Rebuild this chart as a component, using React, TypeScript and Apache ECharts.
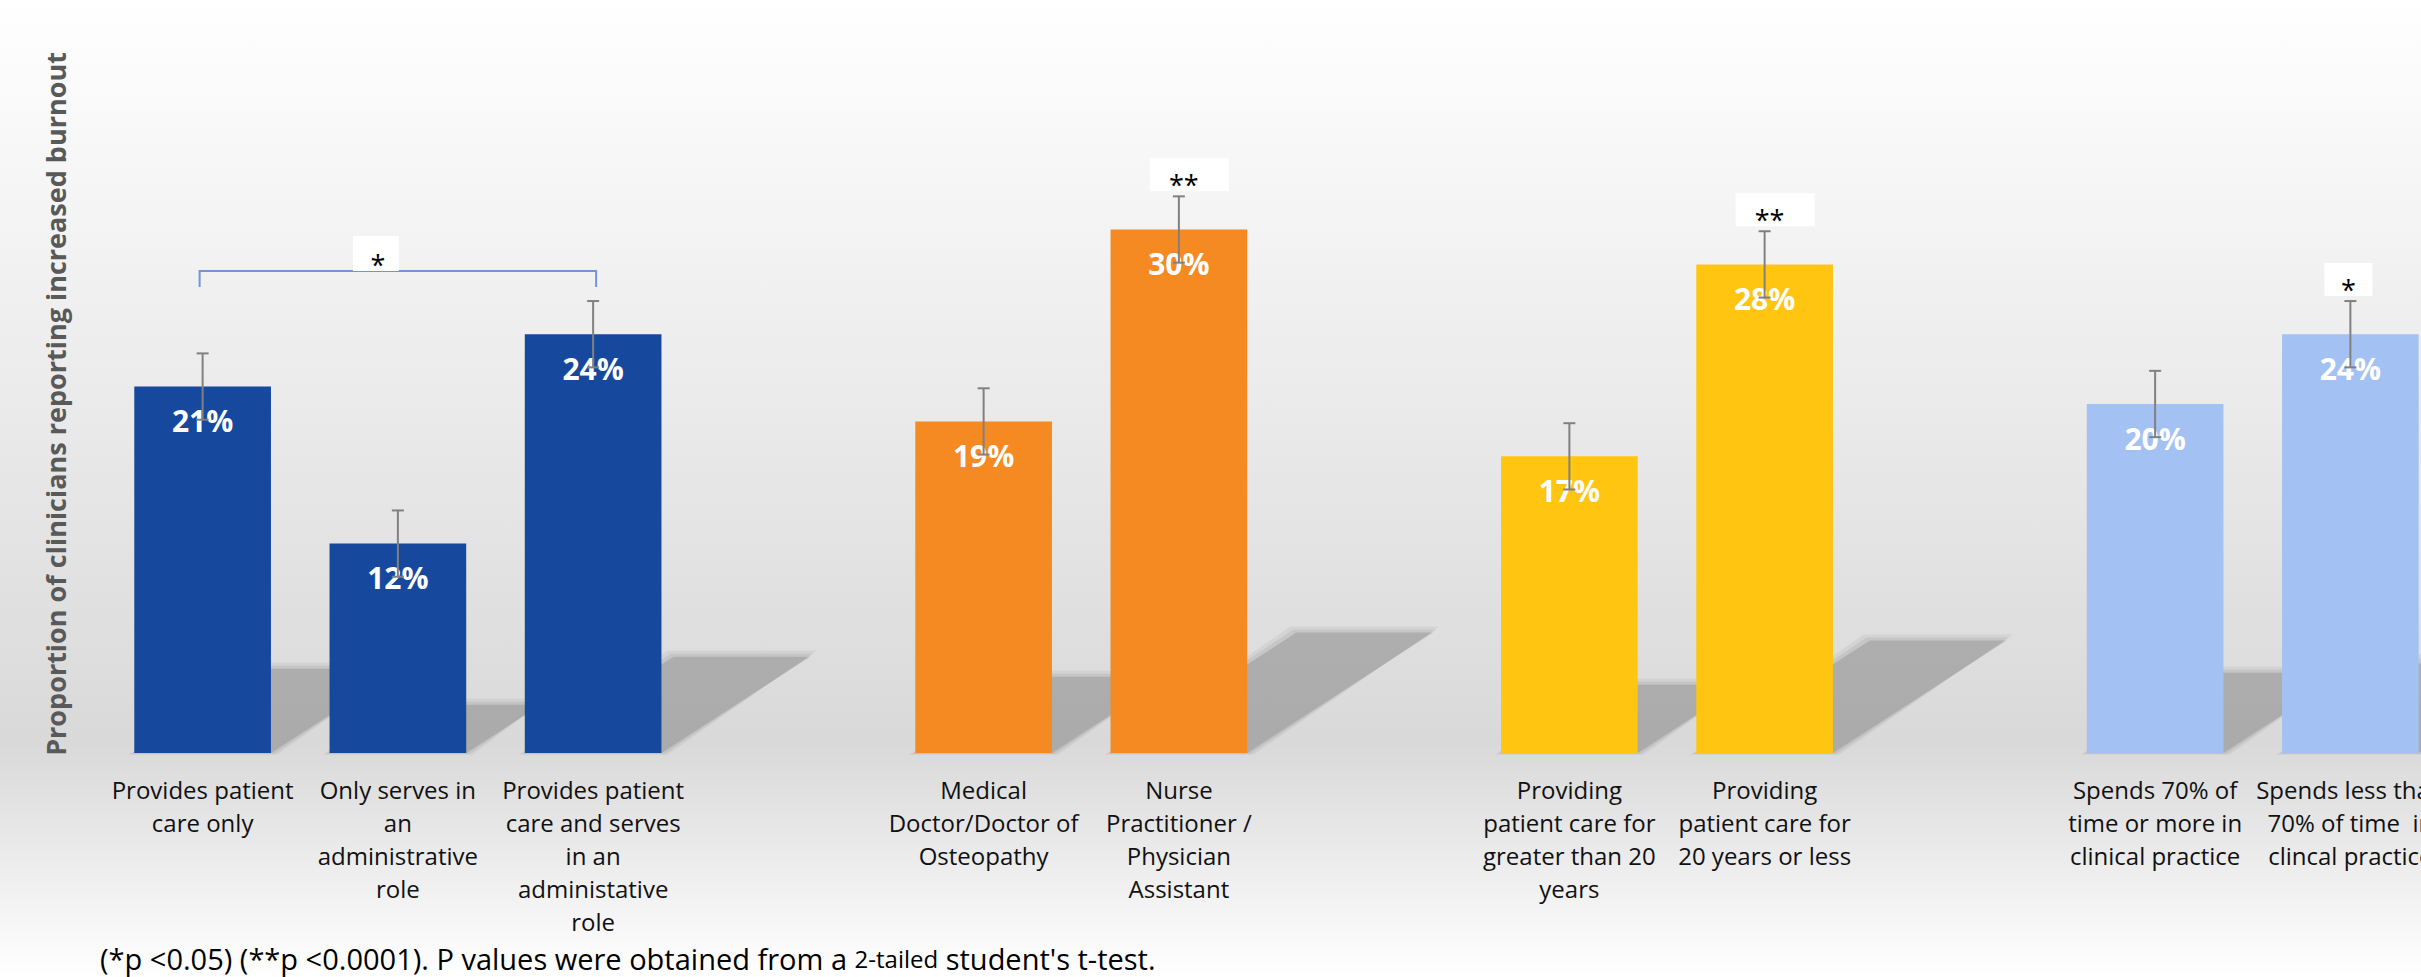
import React, { useEffect, useRef } from "react";
import * as echarts from "echarts";

// ---- data ----
const categories = [
  "Provides patient\ncare only",
  "Only serves in\nan\nadministrative\nrole",
  "Provides patient\ncare and serves\nin an\nadministative\nrole",
  "",
  "Medical\nDoctor/Doctor of\nOsteopathy",
  "Nurse\nPractitioner /\nPhysician\nAssistant",
  "",
  "Providing\npatient care for\ngreater than 20\nyears",
  "Providing\npatient care for\n20 years or less",
  "",
  "Spends 70% of\ntime or more in\nclinical practice",
  "Spends less than\n70% of time  in\nclincal practice",
];
const burnout = [21, 12, 24, null, 19, 30, null, 17, 28, null, 20, 24];
const errorMargin = [1.9, 1.9, 1.9, null, 1.9, 1.9, null, 1.9, 1.9, null, 1.9, 1.9];
const significance = ["", "", "", "", "", "**", "", "", "**", "", "", "*"];
const groupOf = [0, 0, 0, -1, 1, 1, -1, 2, 2, -1, 3, 3];
const groupColors = ["#16489d", "#f58a22", "#ffc511", "#a4c1f3"];
const bracketFrom = 0;
const bracketTo = 2;
const bracketMark = "*";
const yAxisTitle = "Proportion of clinicians reporting increased burnout";
const footnoteA = "(*p <0.05) (**p <0.0001). P values were obtained from a ";
const footnoteB = "2-tailed";
const footnoteC = " student's t-test.";

const FONT = "'Open Sans', 'Noto Sans', sans-serif";

export default function App() {
  const ref = useRef<HTMLDivElement>(null);

  useEffect(() => {
    if (!ref.current) return;
    const chart = echarts.init(ref.current, null, { renderer: "svg" });

    const barData = burnout.map((v, i) =>
      v == null
        ? "-"
        : { value: v, itemStyle: { color: groupColors[groupOf[i]] } }
    );
    const pointData = burnout
      .map((v, i) => (v == null ? null : [i, v, errorMargin[i], significance[i]]))
      .filter((d) => d != null);

    const shadowPoly = (L: number, R: number, b: number, dx: number, dy: number, g: number) => [
      [L - g, b + g * 0.3],
      [R + g, b + g * 0.3],
      [R + dx + g, b - dy - g],
      [L + dx - g, b - dy - g],
    ];

    const option: any = {
      animation: false,
      backgroundColor: {
        type: "linear",
        x: 0,
        y: 0,
        x2: 0,
        y2: 1,
        colorStops: [
          { offset: 0, color: "#ffffff" },
          { offset: 0.06, color: "#fcfcfc" },
          { offset: 0.76, color: "#d9d9d9" },
          { offset: 0.8, color: "#dfdfdf" },
          { offset: 1, color: "#ffffff" },
        ],
      },
      grid: { left: 105, right: 12, top: 55, bottom: 224 },
      xAxis: {
        type: "category",
        data: categories,
        axisLine: { show: false },
        axisTick: { show: false },
        axisLabel: {
          interval: 0,
          margin: 20,
          fontSize: 24,
          lineHeight: 33,
          color: "#111111",
          fontFamily: FONT,
          align: "center",
        },
      },
      yAxis: {
        type: "value",
        min: 0,
        max: 40,
        axisLine: { show: false },
        axisTick: { show: false },
        axisLabel: { show: false },
        splitLine: { show: false },
        name: yAxisTitle,
        nameLocation: "middle",
        nameGap: 36,
        nameTextStyle: {
          fontSize: 27,
          fontWeight: "bold",
          color: "#595959",
          fontFamily: FONT,
        },
      },
      graphic: [
        {
          type: "text",
          left: 100,
          top: 944,
          style: {
            text: `{a|${footnoteA}}{b|${footnoteB}}{a|${footnoteC}}`,
            rich: {
              a: { fontSize: 29, lineHeight: 30, fontFamily: FONT, fill: "#000000" },
              b: { fontSize: 24, lineHeight: 30, fontFamily: FONT, fill: "#000000" },
            },
          },
        },
      ],
      series: [
        {
          type: "custom",
          name: "shadow",
          z: 1,
          data: pointData,
          encode: { x: 0, y: 1 },
          renderItem: (params: any, api: any) => {
            const idx = api.value(0);
            const val = api.value(1);
            const base = api.coord([idx, 0]);
            const top = api.coord([idx, val]);
            const w = api.size([1, 0])[0] * 0.7;
            const h = base[1] - top[1];
            const L = base[0] - w / 2;
            const R = base[0] + w / 2;
            const dx = 0.355 * h;
            const dy = 0.23 * h;
            const b = base[1];
            return {
              type: "group",
              children: [
                {
                  type: "polygon",
                  shape: { points: shadowPoly(L, R, b, dx, dy, 6) },
                  style: { fill: "rgba(120,120,120,0.10)" },
                },
                {
                  type: "polygon",
                  shape: { points: shadowPoly(L, R, b, dx, dy, 3) },
                  style: { fill: "rgba(120,120,120,0.14)" },
                },
                {
                  type: "polygon",
                  shape: { points: shadowPoly(L, R, b, dx, dy, 0) },
                  style: { fill: "rgba(120,120,120,0.30)" },
                },
              ],
            };
          },
        },
        {
          type: "bar",
          name: "burnout",
          z: 2,
          barCategoryGap: "30%",
          data: barData,
          label: {
            show: true,
            position: "insideTop",
            distance: 19,
            formatter: "{c}%",
            color: "#ffffff",
            fontSize: 30,
            fontWeight: "bold",
            fontFamily: FONT,
          },
        },
        {
          type: "custom",
          name: "errors",
          z: 5,
          data: pointData,
          encode: { x: 0, y: 1 },
          renderItem: (params: any, api: any) => {
            const idx = api.value(0);
            const val = api.value(1);
            const err = api.value(2);
            const sig = significance[idx];
            const hi = api.coord([idx, val + err]);
            const lo = api.coord([idx, val - err]);
            const cx = hi[0];
            const stroke = { stroke: "#808080", lineWidth: 2 };
            const children: any[] = [
              { type: "line", shape: { x1: cx, y1: hi[1], x2: cx, y2: lo[1] }, style: stroke },
              { type: "line", shape: { x1: cx - 6, y1: hi[1], x2: cx + 6, y2: hi[1] }, style: stroke },
              { type: "line", shape: { x1: cx - 6, y1: lo[1], x2: cx + 6, y2: lo[1] }, style: stroke },
            ];
            if (sig) {
              const bw = sig.length > 1 ? 79 : 48;
              const bx = sig.length > 1 ? cx - 29 : cx - 26;
              const bh = 33;
              const by = hi[1] - 5 - bh;
              children.push({
                type: "rect",
                shape: { x: bx, y: by, width: bw, height: bh },
                style: { fill: "#ffffff" },
              });
              children.push({
                type: "text",
                x: sig.length > 1 ? cx + 5 : cx - 2,
                y: by + bh - 7,
                style: {
                  text: sig,
                  fontSize: 27,
                  fontFamily: FONT,
                  fill: "#000000",
                  align: "center",
                  verticalAlign: "middle",
                },
              });
            }
            return { type: "group", children };
          },
        },
        {
          type: "custom",
          name: "bracket",
          z: 5,
          data: [[bracketFrom, bracketTo]],
          encode: { x: [0, 1] },
          renderItem: (params: any, api: any) => {
            const a = api.value(0);
            const b = api.value(1);
            let topVal = 0;
            for (let i = a; i <= b; i++) {
              const v = burnout[i];
              if (v != null) topVal = Math.max(topVal, v + (errorMargin[i] as number));
            }
            const pa = api.coord([a, topVal]);
            const pb = api.coord([b, topVal]);
            const yTop = pa[1] - 30;
            const yEnd = pa[1] - 14;
            const mid = (pa[0] + pb[0]) / 2 - 22;
            return {
              type: "group",
              children: [
                {
                  type: "polyline",
                  shape: {
                    points: [
                      [pa[0] - 3, yEnd],
                      [pa[0] - 3, yTop],
                      [pb[0] + 3, yTop],
                      [pb[0] + 3, yEnd],
                    ],
                  },
                  style: { stroke: "#7095d8", lineWidth: 2, fill: null },
                },
                {
                  type: "rect",
                  shape: { x: mid - 23, y: yTop - 35, width: 46, height: 35 },
                  style: { fill: "#ffffff" },
                },
                {
                  type: "text",
                  x: mid + 2,
                  y: yTop - 7,
                  style: {
                    text: bracketMark,
                    fontSize: 27,
                    fontFamily: FONT,
                    fill: "#000000",
                    align: "center",
                    verticalAlign: "middle",
                  },
                },
              ],
            };
          },
        },
      ],
    };

    chart.setOption(option);
    return () => chart.dispose();
  }, []);

  return (
    <div
      style={{
        position: "absolute",
        left: 0,
        top: 0,
        width: 2421,
        height: 977,
        overflow: "hidden",
      }}
    >
      <div ref={ref} style={{ width: 2460, height: 977 }} />
    </div>
  );
}
